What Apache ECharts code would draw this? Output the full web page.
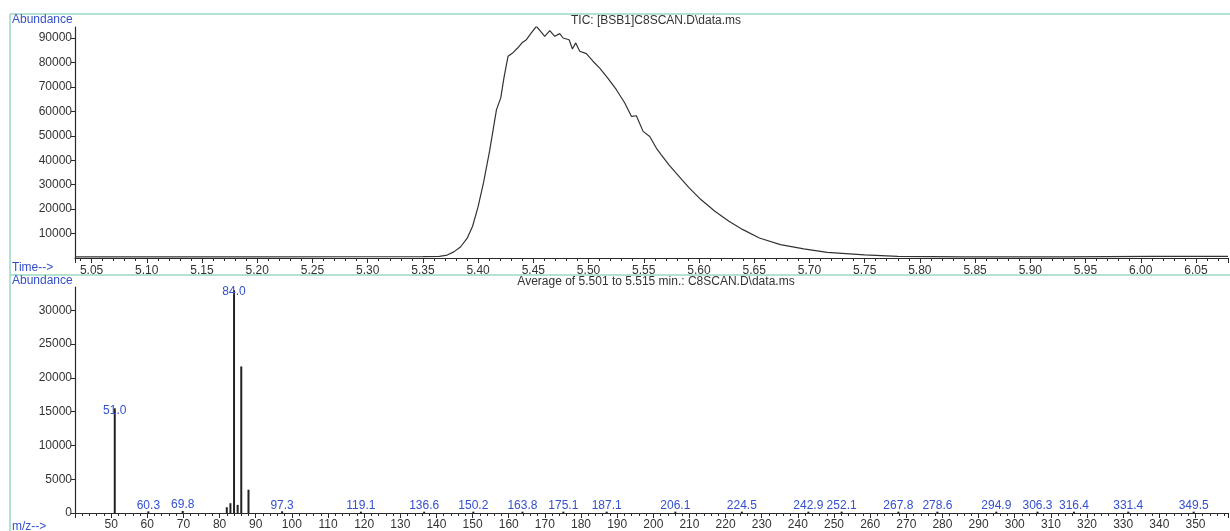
<!DOCTYPE html>
<html>
<head>
<meta charset="utf-8">
<script src="https://cdn.jsdelivr.net/npm/echarts@6/dist/echarts.min.js"></script>
<style>
html,body{margin:0;padding:0;background:#fff;}
#chart{width:1230px;height:531px;}
</style>
</head>
<body>
<div id="chart"></div>
<script>
// ---- TIC chromatogram (top panel) ----
const ticTime = [5.035,5.10,5.20,5.30,5.35,5.365,5.372,5.378,5.384,5.390,5.395,5.400,5.405,5.4105,5.4166,5.4205,5.4235,5.4271,5.4316,5.4360,5.4401,5.4437,5.4480,5.4528,5.4570,5.4603,5.4649,5.4694,5.4739,5.4769,5.4824,5.4854,5.4884,5.4920,5.4980,5.5040,5.5101,5.5176,5.5252,5.5328,5.5389,5.5433,5.5494,5.5554,5.5620,5.5657,5.5730,5.5805,5.5911,5.6017,5.6144,5.6271,5.6398,5.6547,5.6737,5.6949,5.7161,5.7500,5.7800,5.8400,5.9300,6.0100,6.0790];
const ticAbund = [450,480,500,520,560,700,1200,2500,4500,8000,13000,21000,31000,44000,60600,65500,74000,82500,84000,86000,88200,89300,92000,94800,92500,90700,93000,90700,91800,90000,89300,85500,88000,84600,83600,80500,77700,73500,68850,63400,57900,58200,51800,49700,44500,42300,38000,34100,28700,23900,19100,15000,11600,8200,5500,3700,2300,1250,700,420,420,650,700];

// ---- Mass spectrum (bottom panel) ----
const mzValues = [51.0,60.3,69.8,82.0,83.0,84.0,85.0,86.0,88.0,97.3,119.1,136.6,150.2,163.8,175.1,187.1,206.1,224.5,242.9,252.1,267.8,278.6,294.9,306.3,316.4,331.4,349.5];
const mzAbund  = [15500,250,300,850,1450,33000,1200,21700,3450,250,200,200,200,200,200,200,200,200,200,200,200,200,200,200,200,200,200];
const labelledMz = [51.0,60.3,69.8,84.0,97.3,119.1,136.6,150.2,163.8,175.1,187.1,206.1,224.5,242.9,252.1,267.8,278.6,294.9,306.3,316.4,331.4,349.5];

// ---- Texts ----
const topTitle = 'TIC: [BSB1]C8SCAN.D\\data.ms';
const bottomTitle = 'Average of 5.501 to 5.515 min.: C8SCAN.D\\data.ms';
const yName = 'Abundance';
const timeName = 'Time-->';
const mzName = 'm/z-->';

const FONT = '"Liberation Sans", Arial, sans-serif';
const BLUE = '#3450cc';
const AXIS = '#2a2a2a';
const FRAME = '#9ad9c4';

const ticData = ticTime.map((t, i) => [t, ticAbund[i]]);
const msData = mzValues.map((m, i) => {
  const item = { value: [m, mzAbund[i]] };
  const lab = labelledMz.indexOf(m) >= 0;
  item.label = { show: lab };
  if (lab && mzAbund[i] > 5000) item.label.offset = [0, 8];
  return item;
});

const chart = echarts.init(document.getElementById('chart'), null, { renderer: 'canvas' });

const axisTextStyle = { color: '#333', fontSize: 12, fontFamily: FONT };

chart.setOption({
  animation: false,
  backgroundColor: '#fff',
  grid: [
    { left: 75, right: 2, top: 27, bottom: 273, containLabel: false },
    { left: 75, right: 2, top: 287, bottom: 12, containLabel: false }
  ],
  xAxis: [
    {
      type: 'value', gridIndex: 0, min: 5.035, max: 6.079, splitNumber: 21,
      axisLine: { show: true, onZero: false, lineStyle: { color: AXIS, width: 1.2 } },
      axisTick: { show: true, length: 5, lineStyle: { color: AXIS } },
      minorTick: { show: true, splitNumber: 5, length: 3, lineStyle: { color: AXIS } },
      splitLine: { show: false },
      axisLabel: Object.assign({ margin: 7, showMinLabel: false, showMaxLabel: false,
        formatter: v => v.toFixed(2) }, axisTextStyle)
    },
    {
      type: 'value', gridIndex: 1, min: 40, max: 359, interval: 10,
      axisLine: { show: true, onZero: false, lineStyle: { color: AXIS, width: 1.2 } },
      axisTick: { show: true, length: 5, lineStyle: { color: AXIS } },
      minorTick: { show: true, splitNumber: 5, length: 3, lineStyle: { color: AXIS } },
      splitLine: { show: false },
      axisLabel: Object.assign({ margin: 6, showMinLabel: false, showMaxLabel: false,
        formatter: v => String(Math.round(v)) }, axisTextStyle)
    }
  ],
  yAxis: [
    {
      type: 'value', gridIndex: 0, min: 0, max: 94500, interval: 10000,
      axisLine: { show: true, lineStyle: { color: AXIS, width: 1.2 } },
      axisTick: { show: true, length: 4, lineStyle: { color: AXIS } },
      splitLine: { show: false },
      axisLabel: Object.assign({ margin: 3, showMinLabel: false, showMaxLabel: false,
        formatter: v => String(v) }, axisTextStyle)
    },
    {
      type: 'value', gridIndex: 1, min: 0, max: 33460, interval: 5000,
      axisLine: { show: true, lineStyle: { color: AXIS, width: 1.2 } },
      axisTick: { show: true, length: 4, lineStyle: { color: AXIS } },
      splitLine: { show: false },
      axisLabel: Object.assign({ margin: 3, showMaxLabel: false,
        formatter: v => String(v) }, axisTextStyle)
    }
  ],
  series: [
    {
      type: 'line', xAxisIndex: 0, yAxisIndex: 0, data: ticData,
      showSymbol: false, symbol: 'none', smooth: false,
      lineStyle: { color: '#333', width: 1.2 }
    },
    {
      type: 'bar', xAxisIndex: 1, yAxisIndex: 1, data: msData,
      barWidth: 2, itemStyle: { color: '#222' },
      label: {
        position: 'top', distance: 0, color: BLUE, fontSize: 12, fontFamily: FONT,
        formatter: p => p.value[0].toFixed(1)
      }
    }
  ],
  graphic: [
    { type: 'line', shape: { x1: 10, y1: 14, x2: 1230, y2: 14 }, style: { stroke: FRAME, lineWidth: 1.5 }, silent: true },
    { type: 'line', shape: { x1: 10, y1: 14, x2: 10, y2: 531 }, style: { stroke: FRAME, lineWidth: 1.5 }, silent: true },
    { type: 'line', shape: { x1: 10, y1: 275, x2: 1230, y2: 275 }, style: { stroke: FRAME, lineWidth: 1.5 }, silent: true },
    { type: 'text', x: 12, y: 20, style: { text: yName, fill: BLUE, font: '12px ' + FONT, textVerticalAlign: 'middle' } },
    { type: 'text', x: 12, y: 268, style: { text: timeName, fill: BLUE, font: '12px ' + FONT, textVerticalAlign: 'middle' } },
    { type: 'text', x: 12, y: 281, style: { text: yName, fill: BLUE, font: '12px ' + FONT, textVerticalAlign: 'middle' } },
    { type: 'text', x: 12, y: 527, style: { text: mzName, fill: BLUE, font: '12px ' + FONT, textVerticalAlign: 'middle' } },
    { type: 'text', x: 656, y: 21, style: { text: topTitle, fill: '#333', font: '12px ' + FONT, textAlign: 'center', textVerticalAlign: 'middle' } },
    { type: 'text', x: 656, y: 282, style: { text: bottomTitle, fill: '#333', font: '12px ' + FONT, textAlign: 'center', textVerticalAlign: 'middle' } }
  ]
});
</script>
</body>
</html>
